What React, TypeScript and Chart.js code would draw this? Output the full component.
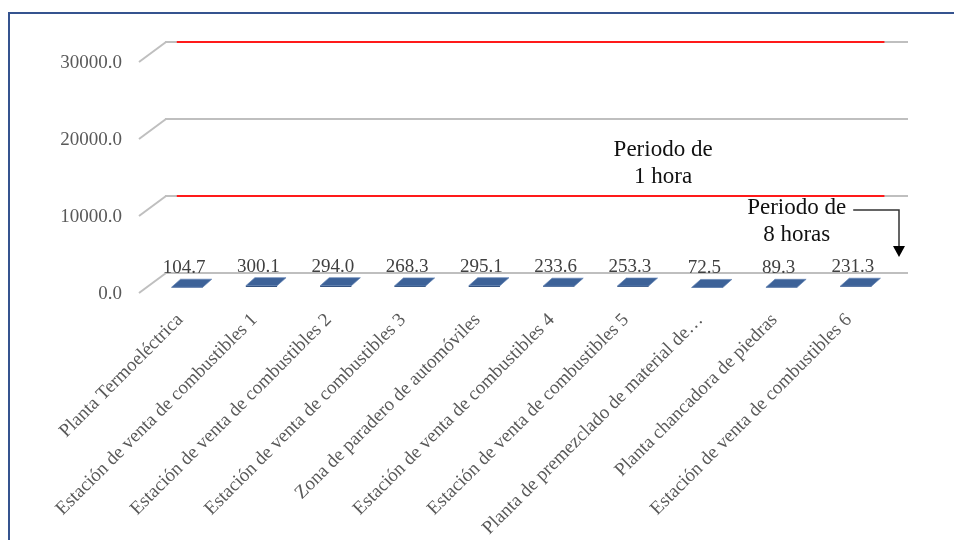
import React, { useEffect, useRef } from "react";
import { Chart, registerables } from "chart.js";

Chart.register(...registerables);

const categories: string[] = [
  "Planta Termoeléctrica",
  "Estación de venta de combustibles 1",
  "Estación de venta de combustibles 2",
  "Estación de venta de combustibles 3",
  "Zona de paradero de automóviles",
  "Estación de venta de combustibles 4",
  "Estación de venta de combustibles 5",
  "Planta de premezclado de material de…",
  "Planta chancadora de piedras",
  "Estación de venta de combustibles 6",
];

const concentrations: number[] = [104.7, 300.1, 294.0, 268.3, 295.1, 233.6, 253.3, 72.5, 89.3, 231.3];
const limit1h: number[] = [30000, 30000, 30000, 30000, 30000, 30000, 30000, 30000, 30000, 30000];
const limit8h: number[] = [10000, 10000, 10000, 10000, 10000, 10000, 10000, 10000, 10000, 10000];
const yMin = 0;
const yMax = 30000;
const yStep = 10000;

const note1h: string[] = ["Periodo de", "1 hora"];
const note8h: string[] = ["Periodo de", "8 horas"];

const SERIF = "'Liberation Serif', 'Times New Roman', serif";
const GRID = "#bfbfbf";
const WALL_DX = -26;
const WALL_DY = 20;
const BAR_BACK = { dx: -6, dy: 7 };
const BAR_FRONT = { dx: -15, dy: 15 };

const perspectivePlugin = {
  id: "perspective",
  beforeDraw(chart: any) {
    const ctx = chart.ctx;
    ctx.save();
    ctx.strokeStyle = "#35538f";
    ctx.lineWidth = 2;
    ctx.beginPath();
    ctx.moveTo(9, 540);
    ctx.lineTo(9, 13);
    ctx.lineTo(954, 13);
    ctx.stroke();
    ctx.restore();
  },
  beforeDatasetsDraw(chart: any) {
    const ctx = chart.ctx;
    const yScale = chart.scales.y;
    const left = chart.chartArea.left;
    ctx.save();
    ctx.strokeStyle = GRID;
    ctx.lineWidth = 2;
    yScale.ticks.forEach((t: any) => {
      const py = yScale.getPixelForValue(t.value);
      ctx.beginPath();
      ctx.moveTo(left + 1, py);
      ctx.lineTo(left + WALL_DX, py + WALL_DY);
      ctx.stroke();
    });
    ctx.restore();
  },
  afterDatasetsDraw(chart: any) {
    const ctx = chart.ctx;
    const meta = chart.getDatasetMeta(0);
    ctx.save();
    meta.data.forEach((bar: any, i: number) => {
      const { x, y, base, width } = bar.getProps(["x", "y", "base", "width"], true);
      const l = x - width / 2;
      const r = x + width / 2;
      const h = Math.max(base - y, 0.5);
      // front face of the (very low) box
      ctx.fillStyle = "#2c4b78";
      ctx.fillRect(l + BAR_FRONT.dx, y + BAR_FRONT.dy, width, h);
      // top face
      ctx.fillStyle = "#3d6298";
      ctx.strokeStyle = "#6384b5";
      ctx.lineWidth = 0.7;
      ctx.beginPath();
      ctx.moveTo(l + BAR_BACK.dx, y + BAR_BACK.dy);
      ctx.lineTo(r + BAR_BACK.dx, y + BAR_BACK.dy);
      ctx.lineTo(r + BAR_FRONT.dx, y + BAR_FRONT.dy);
      ctx.lineTo(l + BAR_FRONT.dx, y + BAR_FRONT.dy);
      ctx.closePath();
      ctx.fill();
      ctx.stroke();
      // value label
      ctx.fillStyle = "#404040";
      ctx.font = `19px ${SERIF}`;
      ctx.textAlign = "center";
      ctx.textBaseline = "alphabetic";
      ctx.fillText(concentrations[i].toFixed(1), x - 18, y + 1);
    });
    ctx.restore();
  },
  afterDraw(chart: any) {
    const ctx = chart.ctx;
    const y = chart.scales.y;
    const x = chart.scales.x;
    ctx.save();
    ctx.fillStyle = "#111111";
    ctx.font = `23px ${SERIF}`;
    ctx.textAlign = "center";
    ctx.textBaseline = "alphabetic";
    const c1 = (x.getPixelForValue(6) + x.getPixelForValue(7)) / 2 - 22;
    const b1 = y.getPixelForValue(20000) + 37;
    ctx.fillText(note1h[0], c1, b1);
    ctx.fillText(note1h[1], c1, b1 + 27);
    const c2 = (x.getPixelForValue(8) + x.getPixelForValue(9)) / 2 - 37;
    const b2 = y.getPixelForValue(10000) + 18;
    ctx.fillText(note8h[0], c2, b2);
    ctx.fillText(note8h[1], c2, b2 + 27);
    const tw = ctx.measureText(note8h[0]).width;
    const sx = c2 + tw / 2 + 7;
    const ax = chart.chartArea.right - 9;
    const ay = b2 - 4;
    const tipY = y.getPixelForValue(0) - 16;
    ctx.strokeStyle = "#333333";
    ctx.lineWidth = 1.5;
    ctx.beginPath();
    ctx.moveTo(sx, ay);
    ctx.lineTo(ax, ay);
    ctx.lineTo(ax, tipY - 10);
    ctx.stroke();
    ctx.fillStyle = "#000000";
    ctx.beginPath();
    ctx.moveTo(ax - 6, tipY - 11);
    ctx.lineTo(ax + 6, tipY - 11);
    ctx.lineTo(ax, tipY);
    ctx.closePath();
    ctx.fill();
    ctx.restore();
  },
};

export default function App() {
  const canvasRef = useRef<HTMLCanvasElement | null>(null);

  useEffect(() => {
    if (!canvasRef.current) return;
    const chart = new Chart(canvasRef.current, {
      type: "bar",
      data: {
        labels: categories,
        datasets: [
          {
            type: "bar",
            label: "Concentración",
            data: concentrations,
            backgroundColor: "rgba(0,0,0,0)",
            borderWidth: 0,
            grouped: false,
            categoryPercentage: 1,
            barPercentage: 0.42,
            xAxisID: "x",
            yAxisID: "y",
          } as any,
          {
            type: "line",
            label: "Periodo de 1 hora",
            data: limit1h.map((v, i) => ({ x: i, y: v })),
            borderColor: "#ff1a1a",
            borderWidth: 2,
            pointRadius: 0,
            fill: false,
            clip: false,
            xAxisID: "x2",
            yAxisID: "y",
          } as any,
          {
            type: "line",
            label: "Periodo de 8 horas",
            data: limit8h.map((v, i) => ({ x: i, y: v })),
            borderColor: "#ff1a1a",
            borderWidth: 2,
            pointRadius: 0,
            fill: false,
            clip: false,
            xAxisID: "x2",
            yAxisID: "y",
          } as any,
        ],
      },
      options: {
        animation: false,
        responsive: true,
        maintainAspectRatio: false,
        layout: { padding: { left: 55, right: 46, top: 42, bottom: 0 } },
        plugins: {
          legend: { display: false },
          tooltip: { enabled: false },
        },
        scales: {
          x: {
            type: "category",
            offset: true,
            grid: { display: false, drawTicks: false },
            border: { display: false },
            ticks: {
              autoSkip: false,
              minRotation: 45,
              maxRotation: 45,
              padding: 36,
              labelOffset: -22,
              color: "#595959",
              font: { family: SERIF, size: 19 },
            },
            afterFit: (scale: any) => {
              scale.height = 267;
            },
          },
          x2: {
            type: "linear",
            display: false,
            offset: false,
            min: -0.15,
            max: 9.3,
          },
          y: {
            type: "linear",
            min: yMin,
            max: yMax,
            ticks: {
              stepSize: yStep,
              padding: 43,
              labelOffset: 21.5,
              color: "#595959",
              font: { family: SERIF, size: 19 },
              callback: (v: any) => Number(v).toFixed(1),
            },
            grid: { color: GRID, lineWidth: 2, drawTicks: false },
            border: { display: false },
            afterFit: (scale: any) => {
              scale.width = 110;
              scale.paddingTop = 0;
              scale.paddingBottom = 0;
            },
          },
        },
      } as any,
      plugins: [perspectivePlugin],
    });
    return () => chart.destroy();
  }, []);

  return (
    <div style={{ position: "fixed", left: 0, top: 0, width: 954, height: 540, background: "#ffffff" }}>
      <canvas ref={canvasRef} />
    </div>
  );
}
